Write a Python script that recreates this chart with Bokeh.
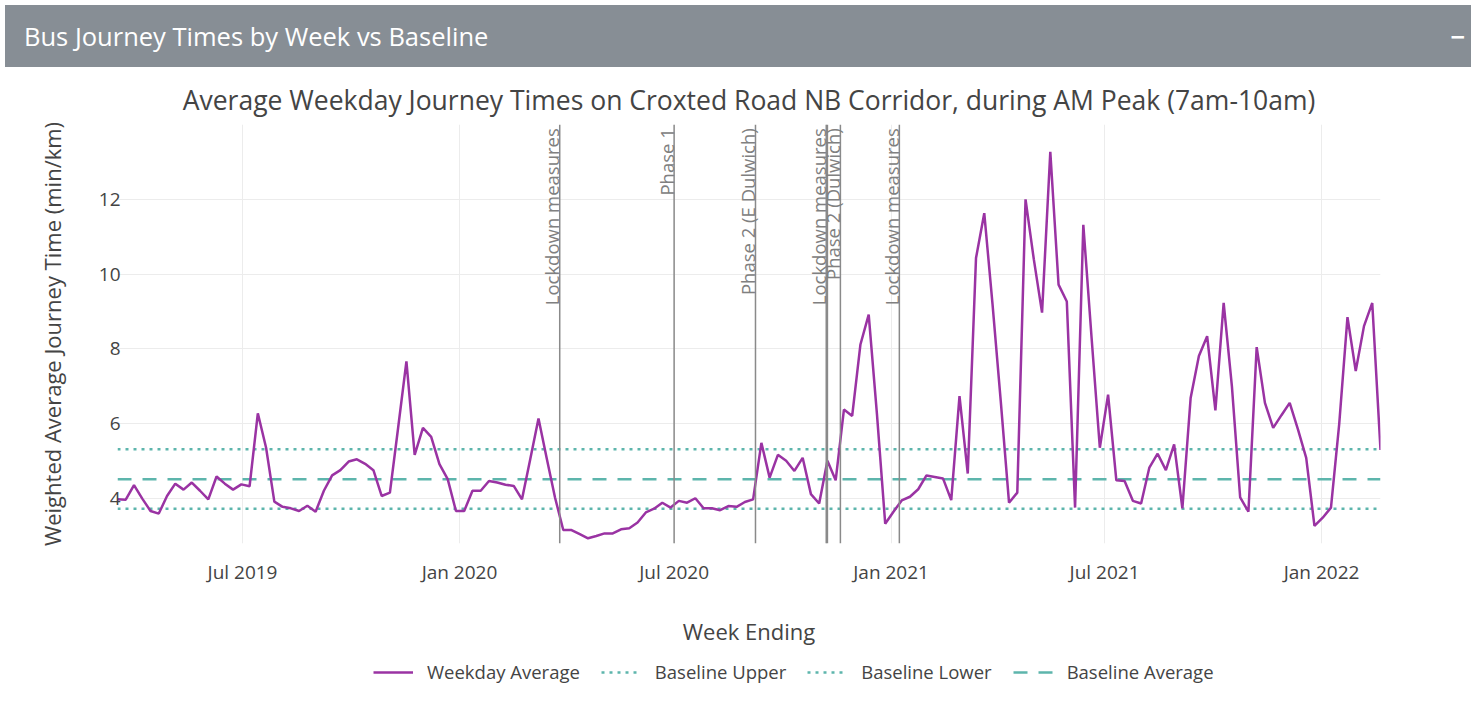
import numpy as np
import pandas as pd
from bokeh.plotting import figure
from bokeh.models import (Span, Label, Legend, LegendItem, FixedTicker,
                          DatetimeTickFormatter, Range1d, Div)
from bokeh.layouts import column
from bokeh.embed import file_html
from bokeh.resources import INLINE

# ---------------- data ----------------
first_week = "2019-03-17"
weekday_average = [
    3.98, 3.97, 4.36, 4.00, 3.67, 3.60, 4.07, 4.40, 4.24, 4.43,
    4.21, 3.98, 4.59, 4.40, 4.24, 4.38, 4.33, 6.28, 5.36, 3.92,
    3.78, 3.74, 3.67, 3.81, 3.65, 4.21, 4.62, 4.76, 4.99, 5.05,
    4.93, 4.76, 4.07, 4.16, 5.90, 7.67, 5.17, 5.89, 5.65, 4.92,
    4.52, 3.67, 3.67, 4.21, 4.21, 4.47, 4.43, 4.37, 4.34, 3.98,
    5.05, 6.14, 5.07, 4.03, 3.16, 3.16, 3.05, 2.94, 3.00, 3.07,
    3.07, 3.18, 3.21, 3.36, 3.63, 3.73, 3.89, 3.76, 3.94, 3.89,
    4.01, 3.74, 3.74, 3.69, 3.80, 3.78, 3.91, 3.98, 5.49, 4.56,
    5.17, 5.01, 4.74, 5.09, 4.12, 3.87, 5.01, 4.49, 6.38, 6.21,
    8.12, 8.92, 6.26, 3.33, 3.65, 3.95, 4.05, 4.25, 4.62, 4.58,
    4.54, 3.96, 6.74, 4.67, 10.43, 11.63, 9.20, 6.60, 3.89, 4.16,
    12.00, 10.40, 8.97, 13.27, 9.72, 9.27, 3.76, 11.32, 8.30, 5.36,
    6.78, 4.49, 4.47, 3.94, 3.87, 4.83, 5.20, 4.76, 5.45, 3.74,
    6.69, 7.81, 8.34, 6.36, 9.23, 7.00, 4.03, 3.65, 8.05, 6.56,
    5.89, 6.23, 6.56, 5.85, 5.09, 3.27, 3.49, 3.76, 6.00, 8.85,
    7.41, 8.61, 9.23, 5.30,
]
baseline_upper = 5.32
baseline_lower = 3.73
baseline_average = 4.52

event_dates = ["2020-03-26", "2020-07-01", "2020-09-08", "2020-11-07",
               "2020-11-08", "2020-11-19", "2021-01-08"]
event_labels = ["Lockdown measures", "Phase 1", "Phase 2 (E Dulwich)",
                "Lockdown measures", "", "Phase 2 (Dulwich)", "Lockdown measures"]

tick_dates = ["2019-07-01", "2020-01-01", "2020-07-01",
              "2021-01-01", "2021-07-01", "2022-01-01"]
y_ticks = [4, 6, 8, 10, 12]

series_names = ["Weekday Average", "Baseline Upper", "Baseline Lower", "Baseline Average"]
title_text = "Average Weekday Journey Times on Croxted Road NB Corridor, during AM Peak (7am-10am)"
header_text = "Bus Journey Times by Week vs Baseline"

# ---------------- build ----------------
weeks = pd.date_range(first_week, periods=len(weekday_average), freq="7D")
n = len(weeks)

FONT = "Open Sans"
TXT = "#444444"
PURPLE = "#9a33a3"
TEAL = "#5db5ac"
FIG_W = 117 + 1263 + 10

p = figure(x_axis_type="datetime", output_backend="svg", toolbar_location=None,
           frame_width=1263, frame_height=419,
           min_border_left=117, min_border_right=10,
           min_border_top=52, min_border_bottom=102,
           x_range=Range1d(weeks[0], weeks[-1]), y_range=Range1d(2.8, 14.0),
           background_fill_color="white", border_fill_color="white")

p.title.text = title_text
p.title.align = "center"
p.title.text_font = FONT
p.title.text_font_size = "26.5px"
p.title.text_font_style = "normal"
p.title.text_color = TXT
p.title.standoff = 14
p.outline_line_color = None

# grid
p.xgrid.grid_line_color = "#ececec"
p.ygrid.grid_line_color = "#ececec"

# axes
tick_ms = [pd.Timestamp(d).value / 1e6 for d in tick_dates]
p.xaxis.ticker = FixedTicker(ticks=tick_ms)
p.xaxis.formatter = DatetimeTickFormatter(days="%b %Y", months="%b %Y", years="%b %Y")
p.yaxis.ticker = FixedTicker(ticks=y_ticks)
for ax in (p.xaxis, p.yaxis):
    ax.axis_line_color = None
    ax.major_tick_line_color = None
    ax.minor_tick_line_color = None
    ax.major_tick_out = 0
    ax.major_tick_in = 0
    ax.major_label_text_font = FONT
    ax.major_label_text_font_size = "19px"
    ax.major_label_text_color = TXT
    ax.axis_label_text_font = FONT
    ax.axis_label_text_font_size = "22px"
    ax.axis_label_text_font_style = "normal"
    ax.axis_label_text_color = TXT
p.xaxis.axis_label = "Week Ending"
p.yaxis.axis_label = "Weighted Average Journey Time (min/km)"
p.xaxis.major_label_standoff = 15
p.xaxis.axis_label_standoff = 28
p.yaxis.major_label_standoff = -3
p.yaxis.axis_label_standoff = 29

# event lines
for d, lab in zip(event_dates, event_labels):
    ms = pd.Timestamp(d).value / 1e6
    p.add_layout(Span(location=ms, dimension="height", line_color="#8a8a8a",
                      line_width=1.5))
    if lab:
        p.add_layout(Label(x=ms, y=13.9, text=lab, angle=np.pi / 2,
                           text_align="right", text_baseline="alphabetic",
                           x_offset=-8, text_font=FONT, text_font_size="18.5px",
                           text_color="#808080"))

# series
key_styles = [dict(line_color=PURPLE, line_width=2.5),
              dict(line_color=TEAL, line_width=2.5, line_dash="3 5"),
              dict(line_color=TEAL, line_width=2.5, line_dash="3 5"),
              dict(line_color=TEAL, line_width=2.5, line_dash="14 11")]
series_values = [weekday_average, [baseline_upper] * n,
                 [baseline_lower] * n, [baseline_average] * n]
for vals, st in list(zip(series_values, key_styles))[::-1]:
    p.line(weeks, vals, **st)

# ---------------- legend (own strip below the chart) ----------------
# same series drawn in a strip whose y-range lies far away from the data,
# so only the legend keys are visible
lg = figure(width=FIG_W, height=40, x_axis_type="datetime", output_backend="svg",
            toolbar_location=None, x_axis_location=None, y_axis_location=None,
            min_border=0, x_range=Range1d(weeks[0], weeks[-1]),
            y_range=Range1d(100, 101),
            background_fill_color="white", border_fill_color="white")
lg.outline_line_color = None
lg.grid.visible = False
items = []
for name, vals, st in zip(series_names, series_values, key_styles):
    r = lg.line(weeks, vals, **st)
    items.append(LegendItem(label=name, renderers=[r]))
legend = Legend(items=items, orientation="horizontal", location=(256, 4),
                border_line_color=None, background_fill_alpha=0,
                label_text_font=FONT, label_text_font_size="18.5px",
                label_text_color=TXT, glyph_width=40, label_standoff=14,
                spacing=21, margin=0, padding=4)
lg.add_layout(legend, "center")

header = Div(text=(
    '<div style="display:flex;justify-content:space-between;align-items:center;'
    'box-sizing:border-box;width:1466px;height:62px;padding:0 6px 0 19px;'
    'background:#878e95;color:#ffffff;font-family:\'Open Sans\';font-size:25.5px;">'
    '<span>' + header_text + '</span><span style="font-weight:bold;">&minus;</span></div>'),
    width=1466, height=62)

layout = column(header, p, lg, spacing=0)
open("out.html", "w").write(file_html(layout, INLINE))
